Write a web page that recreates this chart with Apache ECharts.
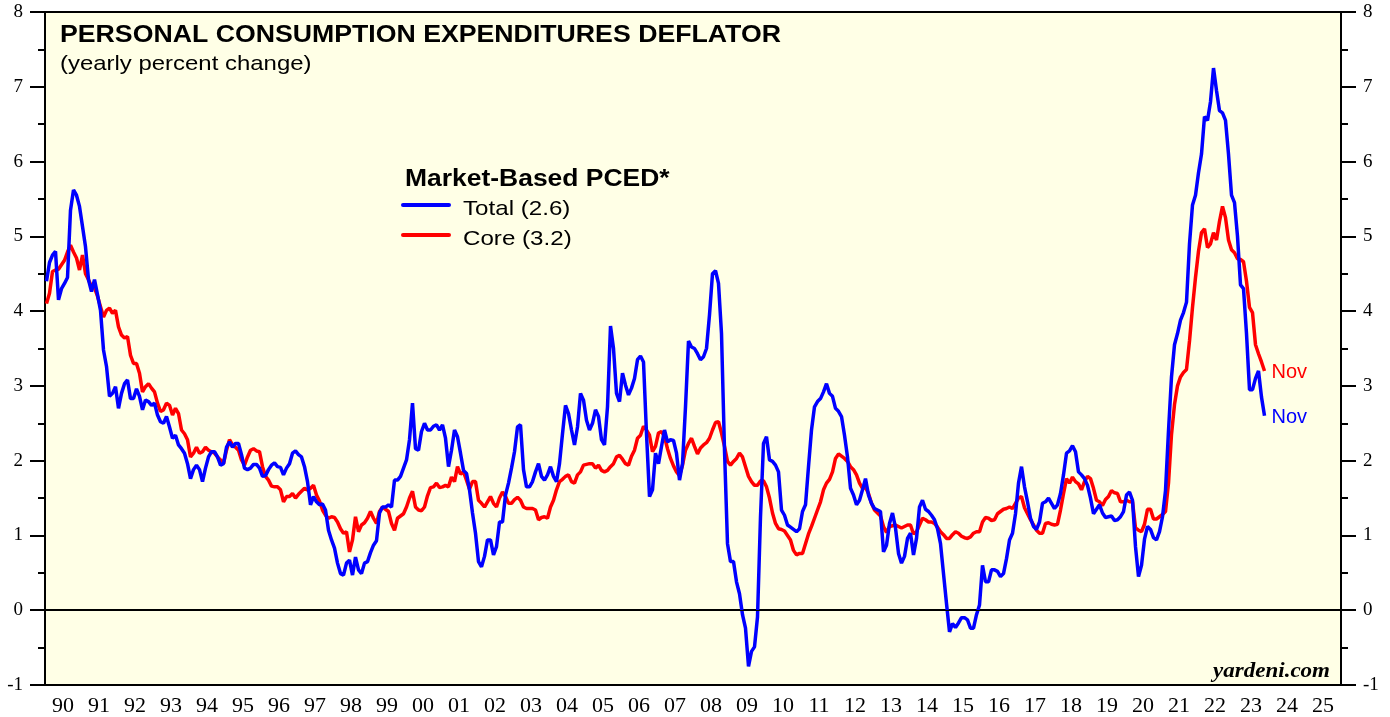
<!DOCTYPE html>
<html>
<head>
<meta charset="utf-8">
<script src="https://cdn.jsdelivr.net/npm/echarts@6/dist/echarts.min.js"></script>
<style>
  html, body { margin: 0; padding: 0; background: #fff; }
  #main { width: 1390px; height: 717px; }
</style>
</head>
<body>
<div id="main"></div>
<script>
// year labels on the bottom axis (1990 .. 2025)
var yearLabels = ['90','91','92','93','94','95','96','97','98','99','00','01','02','03','04','05','06','07','08','09','10','11','12','13','14','15','16','17','18','19','20','21','22','23','24','25'];

// monthly yearly % change, Jan 1990 .. Nov 2023
var totalPced = [
  4.4, 4.65, 4.75, 4.8, 4.15, 4.3, 4.37, 4.45, 5.35, 5.62, 5.55, 5.4,
  5.13, 4.86, 4.42, 4.26, 4.42, 4.22, 4.01, 3.48, 3.26, 2.86, 2.9, 2.99,
  2.7, 2.9, 3.03, 3.08, 2.83, 2.83, 2.96, 2.86, 2.68, 2.81, 2.79, 2.74,
  2.77, 2.61, 2.52, 2.5, 2.59, 2.45, 2.3, 2.34, 2.21, 2.16, 2.1, 1.96,
  1.76, 1.88, 1.94, 1.88, 1.72, 1.9, 2.05, 2.12, 2.12, 2.05, 1.94, 1.96,
  2.18, 2.25, 2.18, 2.23, 2.23, 2.08, 1.9, 1.88, 1.9, 1.95, 1.95, 1.9,
  1.79, 1.8, 1.88, 1.94, 1.97, 1.92, 1.91, 1.81, 1.9, 1.96, 2.1, 2.13,
  2.08, 2.05, 1.92, 1.72, 1.41, 1.52, 1.45, 1.41, 1.42, 1.34, 1.07, 0.94,
  0.83, 0.63, 0.49, 0.47, 0.63, 0.67, 0.47, 0.71, 0.54, 0.49, 0.63, 0.65,
  0.77, 0.87, 0.93, 1.3, 1.38, 1.38, 1.41, 1.38, 1.74, 1.74, 1.79, 1.9,
  2.01, 2.28, 2.77, 2.16, 2.14, 2.39, 2.5, 2.41, 2.41, 2.46, 2.48, 2.41,
  2.48, 2.3, 1.92, 2.14, 2.41, 2.32, 2.1, 1.87, 1.83, 1.61, 1.3, 1.03,
  0.65, 0.58, 0.72, 0.94, 0.94, 0.74, 0.85, 1.18, 1.18, 1.54, 1.7, 1.9,
  2.12, 2.45, 2.48, 1.88, 1.65, 1.65, 1.72, 1.85, 1.96, 1.79, 1.74, 1.81,
  1.92, 1.79, 1.72, 1.96, 2.36, 2.74, 2.63, 2.41, 2.21, 2.45, 2.9, 2.81,
  2.54, 2.41, 2.5, 2.68, 2.59, 2.28, 2.21, 2.72, 3.8, 3.5, 2.9, 2.79,
  3.17, 3.01, 2.88, 2.97, 3.1, 3.35, 3.4, 3.32, 2.36, 1.52, 1.61, 2.1,
  1.96, 2.19, 2.41, 2.25, 2.28, 2.27, 2.1, 1.74, 1.96, 2.72, 3.6, 3.52,
  3.5, 3.43, 3.35, 3.39, 3.5, 3.95, 4.5, 4.54, 4.37, 3.7, 2.14, 0.89,
  0.65, 0.65, 0.38, 0.22, -0.06, -0.24, -0.75, -0.55, -0.49, -0.09, 1.25, 2.23,
  2.32, 2.01, 1.99, 1.94, 1.85, 1.34, 1.27, 1.14, 1.11, 1.08, 1.05, 1.09,
  1.32, 1.41, 1.92, 2.41, 2.72, 2.79, 2.83, 2.92, 3.03, 2.9, 2.86, 2.7,
  2.66, 2.59, 2.34, 2.05, 1.63, 1.54, 1.41, 1.47, 1.61, 1.76, 1.54, 1.43,
  1.36, 1.34, 1.32, 0.78, 0.87, 1.16, 1.3, 1.1, 0.76, 0.63, 0.72, 0.96,
  1.03, 0.74, 0.96, 1.38, 1.47, 1.35, 1.32, 1.27, 1.21, 1.09, 0.89, 0.49,
  0.09, -0.29, -0.18, -0.23, -0.17, -0.1, -0.1, -0.13, -0.24, -0.24, -0.06, 0.07,
  0.6, 0.38, 0.38, 0.54, 0.54, 0.52, 0.45, 0.49, 0.69, 0.94, 1.03, 1.29,
  1.7, 1.92, 1.65, 1.45, 1.23, 1.12, 1.08, 1.18, 1.43, 1.45, 1.5, 1.43,
  1.36, 1.41, 1.56, 1.81, 2.1, 2.13, 2.2, 2.12, 1.85, 1.81, 1.76, 1.67,
  1.5, 1.29, 1.35, 1.41, 1.3, 1.24, 1.25, 1.26, 1.2, 1.21, 1.25, 1.32,
  1.54, 1.58, 1.47, 0.85, 0.45, 0.6, 0.95, 1.12, 1.08, 0.97, 0.94, 1.05,
  1.25, 1.6, 2.4, 3.12, 3.55, 3.7, 3.88, 3.98, 4.12, 4.9, 5.42, 5.55,
  5.85, 6.1, 6.6, 6.55, 6.8, 7.25, 6.95, 6.68, 6.65, 6.55, 6.1, 5.55,
  5.45, 5.0, 4.35, 4.3, 3.7, 2.95, 2.95, 3.1, 3.2, 2.85, 2.6
];

var corePced = [
  4.1, 4.24, 4.53, 4.55, 4.56, 4.62, 4.68, 4.79, 4.88, 4.79, 4.71, 4.55,
  4.75, 4.5, 4.42, 4.33, 4.31, 4.2, 4.06, 3.92, 4.01, 4.04, 3.97, 4.01,
  3.79, 3.68, 3.64, 3.66, 3.41, 3.3, 3.3, 3.17, 2.92, 2.99, 3.03, 2.97,
  2.92, 2.77, 2.66, 2.68, 2.77, 2.74, 2.61, 2.7, 2.63, 2.41, 2.36, 2.28,
  2.05, 2.1, 2.18, 2.1, 2.12, 2.18, 2.14, 2.12, 2.1, 2.05, 2.01, 1.96,
  2.14, 2.28, 2.21, 2.18, 2.14, 2.01, 1.94, 2.05, 2.14, 2.16, 2.13, 2.12,
  1.92, 1.79, 1.74, 1.66, 1.65, 1.65, 1.61, 1.45, 1.52, 1.52, 1.56, 1.5,
  1.55, 1.59, 1.63, 1.61, 1.63, 1.67, 1.54, 1.46, 1.34, 1.27, 1.23, 1.25,
  1.24, 1.18, 1.09, 1.03, 1.05, 0.78, 0.94, 1.25, 1.05, 1.14, 1.17, 1.23,
  1.32, 1.23, 1.16, 1.32, 1.38, 1.35, 1.32, 1.16, 1.07, 1.23, 1.26, 1.29,
  1.38, 1.5, 1.59, 1.38, 1.34, 1.33, 1.38, 1.53, 1.64, 1.65, 1.7, 1.64,
  1.65, 1.67, 1.65, 1.78, 1.72, 1.92, 1.82, 1.85, 1.74, 1.62, 1.72, 1.72,
  1.47, 1.43, 1.38, 1.45, 1.52, 1.43, 1.38, 1.5, 1.58, 1.52, 1.43, 1.43,
  1.48, 1.51, 1.47, 1.38, 1.36, 1.36, 1.36, 1.34, 1.21, 1.24, 1.25, 1.23,
  1.38, 1.47, 1.61, 1.72, 1.75, 1.79, 1.81, 1.72, 1.7, 1.81, 1.85, 1.94,
  1.95, 1.96, 1.96, 1.9, 1.94, 1.87, 1.85, 1.87, 1.92, 1.96, 2.05, 2.07,
  2.02, 1.96, 1.94, 2.06, 2.14, 2.3, 2.34, 2.46, 2.41, 2.34, 2.12, 2.19,
  2.37, 2.39, 2.32, 2.16, 2.03, 1.93, 1.85, 1.8, 1.94, 2.14, 2.23, 2.3,
  2.19, 2.09, 2.17, 2.21, 2.24, 2.3, 2.41, 2.51, 2.52, 2.37, 2.19, 1.99,
  1.94, 1.99, 2.03, 2.1, 2.05, 1.92, 1.79, 1.72, 1.67, 1.67, 1.73, 1.73,
  1.65, 1.5, 1.3, 1.16, 1.09, 1.08, 1.06, 1.0, 0.94, 0.8, 0.74, 0.76,
  0.76, 0.89, 1.02, 1.12, 1.23, 1.34, 1.45, 1.61, 1.7, 1.75, 1.85, 2.03,
  2.09, 2.06, 2.03, 1.99, 1.92, 1.88, 1.81, 1.7, 1.63, 1.64, 1.56, 1.43,
  1.34, 1.3, 1.26, 1.12, 1.04, 1.12, 1.13, 1.14, 1.12, 1.1, 1.12, 1.14,
  1.14, 1.02, 1.05, 1.14, 1.23, 1.21, 1.18, 1.18, 1.16, 1.11, 1.05, 1.01,
  0.96, 0.96, 1.01, 1.05, 1.03, 0.99, 0.97, 0.96, 0.98, 1.03, 1.05, 1.05,
  1.18, 1.24, 1.23, 1.2, 1.21, 1.29, 1.32, 1.35, 1.36, 1.38, 1.36, 1.43,
  1.5, 1.52, 1.37, 1.29, 1.21, 1.14, 1.07, 1.03, 1.03, 1.16, 1.17, 1.15,
  1.14, 1.15, 1.34, 1.56, 1.76, 1.7, 1.78, 1.72, 1.69, 1.61, 1.72, 1.79,
  1.76, 1.63, 1.47, 1.45, 1.4, 1.48, 1.52, 1.6, 1.57, 1.56, 1.45, 1.45,
  1.47, 1.45, 1.45, 1.1, 1.07, 1.05, 1.15, 1.35, 1.35, 1.22, 1.22, 1.25,
  1.28, 1.32, 1.7, 2.35, 2.75, 3.0, 3.12, 3.18, 3.22, 3.6, 4.05, 4.45,
  4.8, 5.05, 5.1, 4.85, 4.9, 5.05, 4.95, 5.2, 5.4, 5.25, 4.95, 4.82,
  4.78, 4.7, 4.69, 4.66, 4.4, 4.05, 3.98, 3.55, 3.43, 3.32, 3.2
];

var totalName = 'Total (2.6)';
var coreName = 'Core (3.2)';

function toPoints(arr) {
  return arr.map(function (v, i) { return [i + 0.5, v]; });
}

var serif = 'Liberation Serif';
var sans = 'Liberation Sans';

var yAxisBase = {
  type: 'value',
  min: -1,
  max: 8,
  interval: 1,
  axisLine: { show: true, lineStyle: { color: '#000', width: 2 } },
  axisTick: { show: true, length: 15, lineStyle: { color: '#000', width: 2 } },
  minorTick: { show: true, splitNumber: 2, length: 7, lineStyle: { color: '#000', width: 2 } },
  splitLine: { show: false },
  axisLabel: { fontFamily: serif, fontSize: 19, color: '#000', margin: 22 }
};

var myChart = echarts.init(document.getElementById('main'), null, { renderer: 'canvas' });

var option = {
  animation: false,
  backgroundColor: '#fff',
  grid: {
    left: 45, right: 49, top: 12, bottom: 32,
    show: true,
    backgroundColor: '#ffffe6',
    borderColor: '#000',
    borderWidth: 2
  },
  xAxis: [{
    type: 'category',
    data: yearLabels,
    boundaryGap: true,
    axisLine: { lineStyle: { color: '#000', width: 2 } },
    axisTick: { interval: 0, length: 12, lineStyle: { color: '#000', width: 2 } },
    axisLabel: { interval: 0, fontFamily: serif, fontSize: 22, color: '#000', margin: 10 },
    splitLine: { show: false }
  }, {
    type: 'value',
    min: 0,
    max: yearLabels.length * 12,
    show: false
  }],
  yAxis: [
    Object.assign({}, yAxisBase, { position: 'left' }),
    Object.assign({}, yAxisBase, { position: 'right' })
  ],
  series: [{
    name: coreName,
    type: 'line',
    xAxisIndex: 1,
    yAxisIndex: 0,
    data: toPoints(corePced),
    showSymbol: false,
    lineStyle: { color: '#ff0000', width: 3.5 },
    itemStyle: { color: '#ff0000' },
    endLabel: { show: true, formatter: 'Nov', color: '#ff0000', fontFamily: sans, fontSize: 20, distance: 7, offset: [0, 2] },
    markLine: {
      silent: true,
      symbol: 'none',
      label: { show: false },
      lineStyle: { color: '#000', width: 1, type: 'solid' },
      data: [{ yAxis: 0 }]
    }
  }, {
    name: totalName,
    type: 'line',
    xAxisIndex: 1,
    yAxisIndex: 0,
    data: toPoints(totalPced),
    showSymbol: false,
    lineStyle: { color: '#0000ff', width: 3.5 },
    itemStyle: { color: '#0000ff' },
    endLabel: { show: true, formatter: 'Nov', color: '#0000ff', fontFamily: sans, fontSize: 20, distance: 7, offset: [0, 2] }
  }],
  graphic: [
    { type: 'text', x: 60, y: 36, scaleX: 1.16, z: 10,
      style: { text: 'PERSONAL CONSUMPTION EXPENDITURES DEFLATOR', fontFamily: sans, fontWeight: 'bold', fontSize: 23, fill: '#000', verticalAlign: 'middle' } },
    { type: 'text', x: 60, y: 64, scaleX: 1.14, z: 10,
      style: { text: '(yearly percent change)', fontFamily: sans, fontSize: 21, fill: '#000', verticalAlign: 'middle' } },
    { type: 'text', x: 405, y: 180, scaleX: 1.15, z: 10,
      style: { text: 'Market-Based PCED*', fontFamily: sans, fontWeight: 'bold', fontSize: 23, fill: '#000', verticalAlign: 'middle' } },
    { type: 'line', z: 10, shape: { x1: 403, y1: 205, x2: 449, y2: 205 }, style: { stroke: '#0000ff', lineWidth: 4, lineCap: 'round' } },
    { type: 'text', x: 463, y: 209, scaleX: 1.15, z: 10,
      style: { text: totalName, fontFamily: sans, fontSize: 21, fill: '#000', verticalAlign: 'middle' } },
    { type: 'line', z: 10, shape: { x1: 403, y1: 235, x2: 449, y2: 235 }, style: { stroke: '#ff0000', lineWidth: 4, lineCap: 'round' } },
    { type: 'text', x: 463, y: 239, scaleX: 1.15, z: 10,
      style: { text: coreName, fontFamily: sans, fontSize: 21, fill: '#000', verticalAlign: 'middle' } },
    { type: 'text', x: 1330, y: 672, scaleX: 1.15, z: 10,
      style: { text: 'yardeni.com', fontFamily: serif, fontWeight: 'bold', fontStyle: 'italic', fontSize: 20, fill: '#000', align: 'right', verticalAlign: 'middle' } }
  ]
};

myChart.setOption(option);
</script>
</body>
</html>
